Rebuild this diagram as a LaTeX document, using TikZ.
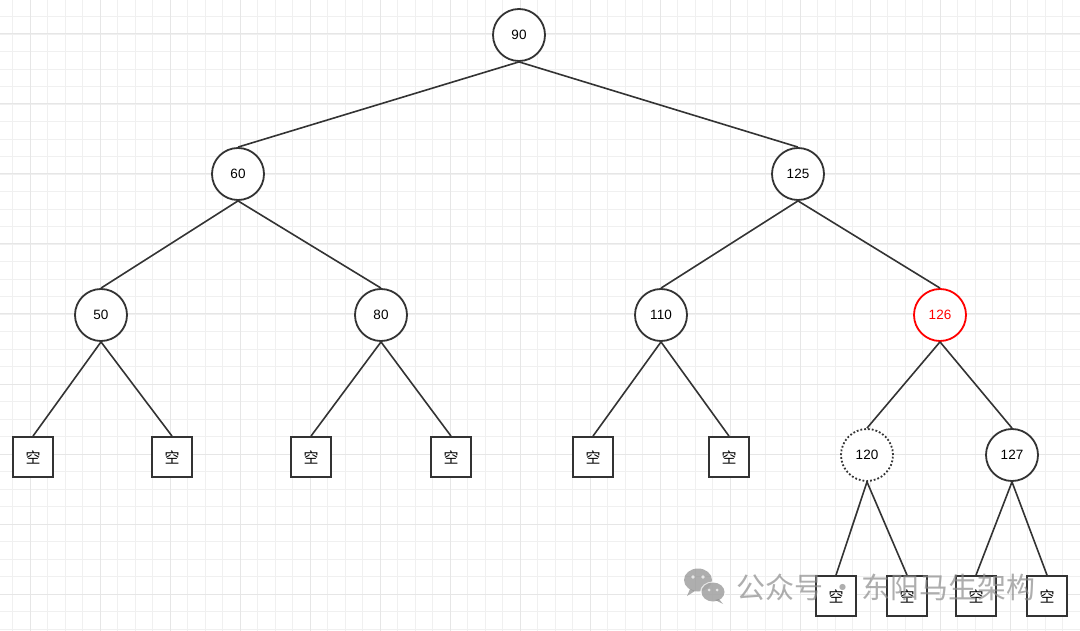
\documentclass[tikz,border=0pt]{standalone}
\usepackage{fontspec}
\setmainfont{Liberation Sans}
\newfontfamily\cjk{Noto Sans CJK SC}
\usetikzlibrary{positioning}
\definecolor{linegray}{HTML}{333333}
\definecolor{gridminor}{HTML}{F0F0F0}
\definecolor{gridmajor}{HTML}{E6E6E6}
\definecolor{markgray}{HTML}{8C8C8C}
\tikzstyle{treenode} = [circle, draw=linegray, line width=1.8pt, fill=white,
    minimum size=52pt, inner sep=0pt, font=\fontsize{13.5}{16}\selectfont]
\tikzstyle{newnode} = [treenode, draw=red, text=red]
\tikzstyle{ghostnode} = [treenode, dotted, line width=1.8pt]
\tikzstyle{emptybox} = [rectangle, draw=linegray, line width=1.8pt, fill=white,
    minimum size=40pt, inner sep=0pt, font=\cjk\fontsize{15}{17}\selectfont]
\tikzstyle{edge} = [draw=linegray, line width=1.6pt]

\begin{document}
\begin{tikzpicture}[x=1pt, y=-1pt]
\useasboundingbox (0,0) rectangle (1080,631);
\fill[white] (0,0) rectangle (1080,631);
% grid
\foreach \k in {0,...,61} {
  \draw[gridminor, line width=0.9pt] ({12.5+17.5*\k},0) -- ({12.5+17.5*\k},631);
}
\foreach \k in {0,...,35} {
  \draw[gridminor, line width=0.9pt] (0,{16.5+17.5*\k}) -- (1080,{16.5+17.5*\k});
}
\foreach \k in {0,...,15} {
  \draw[gridmajor, line width=1pt] ({30+70*\k},0) -- ({30+70*\k},631);
}
\foreach \k in {0,...,8} {
  \draw[gridmajor, line width=1pt] (0,{34+70*\k}) -- (1080,{34+70*\k});
}

% tree
\node (n90) [treenode] at (519,35) {90};
\node (n60) [treenode] at (238,174) {60};
\node (n125) [treenode] at (798,174) {125};
\node (n50) [treenode] at (101,315) {50};
\node (n80) [treenode] at (381,315) {80};
\node (n110) [treenode] at (661,315) {110};
\node (n126) [newnode] at (940,315) {126};
\node (n120) [ghostnode] at (867,455) {120};
\node (n127) [treenode] at (1012,455) {127};

\node (e1) [emptybox] at (33,457) {空};
\node (e2) [emptybox] at (172,457) {空};
\node (e3) [emptybox] at (311,457) {空};
\node (e4) [emptybox] at (451,457) {空};
\node (e5) [emptybox] at (593,457) {空};
\node (e6) [emptybox] at (729,457) {空};
\node (e7) [emptybox] at (836,596) {空};
\node (e8) [emptybox] at (907,596) {空};
\node (e9) [emptybox] at (976,596) {空};
\node (e10) [emptybox] at (1047,596) {空};

\draw[edge] (n90.south) -- (n60.north);
\draw[edge] (n90.south) -- (n125.north);
\draw[edge] (n60.south) -- (n50.north);
\draw[edge] (n60.south) -- (n80.north);
\draw[edge] (n125.south) -- (n110.north);
\draw[edge] (n125.south) -- (n126.north);
\draw[edge] (n50.south) -- (e1.north);
\draw[edge] (n50.south) -- (e2.north);
\draw[edge] (n80.south) -- (e3.north);
\draw[edge] (n80.south) -- (e4.north);
\draw[edge] (n110.south) -- (e5.north);
\draw[edge] (n110.south) -- (e6.north);
\draw[edge] (n126.south) -- (n120.north);
\draw[edge] (n126.south) -- (n127.north);
\draw[edge] (n120.south) -- (e7.north);
\draw[edge] (n120.south) -- (e8.north);
\draw[edge] (n127.south) -- (e9.north);
\draw[edge] (n127.south) -- (e10.north);

% watermark
\begin{scope}[opacity=0.7]
\fill[markgray] (698,580) ellipse (14 and 11.5);
\fill[markgray] (690,589) -- (687,596) -- (695,591) -- cycle;
\fill[white] (713,592) ellipse (13 and 10.5);
\fill[markgray] (713,592) ellipse (11.5 and 9.5);
\fill[markgray] (719,599) -- (723,604) -- (715,600) -- cycle;
\fill[white] (693,577) circle (1.8) (703,577) circle (1.8)
  (709,590) circle (1.5) (717,590) circle (1.5);
\node (mark) [anchor=west, text=markgray, inner sep=0pt,
  font=\cjk\fontsize{29}{32}\selectfont] at (736,587) {公众号\,·\,东阳马生架构};
\end{scope}
\end{tikzpicture}
\end{document}
